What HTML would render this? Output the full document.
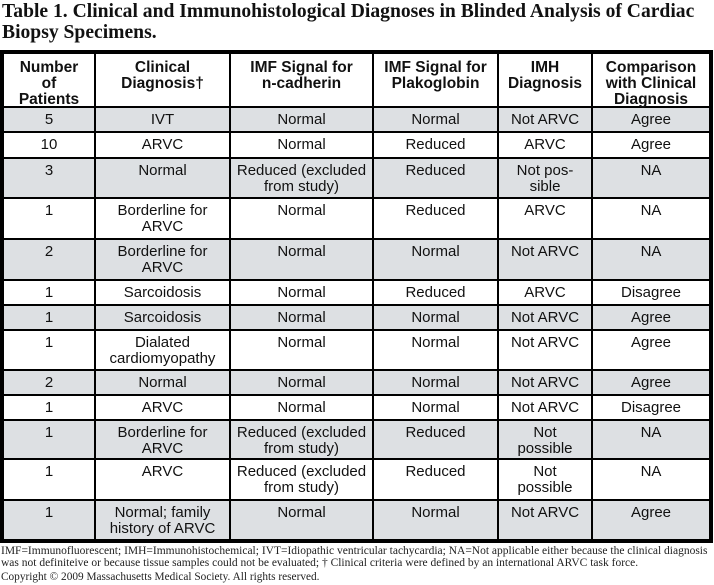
<!DOCTYPE html>
<html><head><meta charset="utf-8"><style>
body{margin:0;width:714px;height:585px;background:#fff;position:relative;overflow:hidden;font-family:"Liberation Sans",Arial,sans-serif;}
.title{position:absolute;left:2px;top:1px;font-family:"Liberation Serif",serif;font-weight:bold;font-size:19.6px;line-height:21px;color:#111;white-space:nowrap;}
.tbl{position:absolute;left:0;top:50px;width:713px;height:493px;background:#000;}
.r{position:absolute;left:4px;width:705px;display:flex;}
.r div{text-align:center;font-size:15px;line-height:16px;padding-top:4px;color:#111;box-sizing:border-box;}
.g{background:#dde0e3;}.w{background:#fff;}
.h div{font-weight:bold;font-size:15.5px;line-height:16px;padding-top:6px;}
.c1{width:90px;margin-right:2px}.c2{width:133px;margin-right:2px}.c3{width:141px;margin-right:2px}.c4{width:123px;margin-right:2px}.c5{width:92px;margin-right:2px}.c6{width:116px}
.r div.c1,.r div.c2,.r div.c3,.r div.c4,.r div.c5,.r div.c6{height:100%}
.foot{position:absolute;left:1px;top:545px;font-family:"Liberation Serif",serif;font-size:11.5px;line-height:12px;color:#222;white-space:nowrap;}
.copy{position:absolute;left:1px;top:571px;font-family:"Liberation Serif",serif;font-size:11.3px;color:#222;}
</style></head><body>
<div class="title">Table 1. Clinical and Immunohistological Diagnoses in Blinded Analysis of Cardiac<br>Biopsy Specimens.</div>
<div class="tbl">
<div class="r h" style="top:4px;height:52px"><div class="c1 w">Number<br>of<br>Patients</div><div class="c2 w">Clinical<br>Diagnosis†</div><div class="c3 w">IMF Signal for<br>n-cadherin</div><div class="c4 w">IMF Signal for<br>Plakoglobin</div><div class="c5 w">IMH<br>Diagnosis</div><div class="c6 w">Comparison<br>with Clinical<br>Diagnosis</div></div>
<div class="r" style="top:58px;height:23px"><div class="c1 g">5</div><div class="c2 g">IVT</div><div class="c3 g">Normal</div><div class="c4 g">Normal</div><div class="c5 g">Not ARVC</div><div class="c6 g">Agree</div></div>
<div class="r" style="top:83px;height:24px"><div class="c1 w">10</div><div class="c2 w">ARVC</div><div class="c3 w">Normal</div><div class="c4 w">Reduced</div><div class="c5 w">ARVC</div><div class="c6 w">Agree</div></div>
<div class="r" style="top:109px;height:38px"><div class="c1 g">3</div><div class="c2 g">Normal</div><div class="c3 g">Reduced (excluded<br>from study)</div><div class="c4 g">Reduced</div><div class="c5 g">Not pos-<br>sible</div><div class="c6 g">NA</div></div>
<div class="r" style="top:149px;height:39px"><div class="c1 w">1</div><div class="c2 w">Borderline for<br>ARVC</div><div class="c3 w">Normal</div><div class="c4 w">Reduced</div><div class="c5 w">ARVC</div><div class="c6 w">NA</div></div>
<div class="r" style="top:190px;height:39px"><div class="c1 g">2</div><div class="c2 g">Borderline for<br>ARVC</div><div class="c3 g">Normal</div><div class="c4 g">Normal</div><div class="c5 g">Not ARVC</div><div class="c6 g">NA</div></div>
<div class="r" style="top:231px;height:23px"><div class="c1 w">1</div><div class="c2 w">Sarcoidosis</div><div class="c3 w">Normal</div><div class="c4 w">Reduced</div><div class="c5 w">ARVC</div><div class="c6 w">Disagree</div></div>
<div class="r" style="top:256px;height:23px"><div class="c1 g">1</div><div class="c2 g">Sarcoidosis</div><div class="c3 g">Normal</div><div class="c4 g">Normal</div><div class="c5 g">Not ARVC</div><div class="c6 g">Agree</div></div>
<div class="r" style="top:281px;height:38px"><div class="c1 w">1</div><div class="c2 w">Dialated<br>cardiomyopathy</div><div class="c3 w">Normal</div><div class="c4 w">Normal</div><div class="c5 w">Not ARVC</div><div class="c6 w">Agree</div></div>
<div class="r" style="top:321px;height:23px"><div class="c1 g">2</div><div class="c2 g">Normal</div><div class="c3 g">Normal</div><div class="c4 g">Normal</div><div class="c5 g">Not ARVC</div><div class="c6 g">Agree</div></div>
<div class="r" style="top:346px;height:23px"><div class="c1 w">1</div><div class="c2 w">ARVC</div><div class="c3 w">Normal</div><div class="c4 w">Normal</div><div class="c5 w">Not ARVC</div><div class="c6 w">Disagree</div></div>
<div class="r" style="top:371px;height:37px"><div class="c1 g">1</div><div class="c2 g">Borderline for<br>ARVC</div><div class="c3 g">Reduced (excluded<br>from study)</div><div class="c4 g">Reduced</div><div class="c5 g">Not<br>possible</div><div class="c6 g">NA</div></div>
<div class="r" style="top:410px;height:39px"><div class="c1 w">1</div><div class="c2 w">ARVC</div><div class="c3 w">Reduced (excluded<br>from study)</div><div class="c4 w">Reduced</div><div class="c5 w">Not<br>possible</div><div class="c6 w">NA</div></div>
<div class="r" style="top:451px;height:38px"><div class="c1 g">1</div><div class="c2 g">Normal; family<br>history of ARVC</div><div class="c3 g">Normal</div><div class="c4 g">Normal</div><div class="c5 g">Not ARVC</div><div class="c6 g">Agree</div></div>
</div>
<div class="foot">IMF=Immunofluorescent; IMH=Immunohistochemical; IVT=Idiopathic ventricular tachycardia; NA=Not applicable either because the clinical diagnosis<br>was not definiteive or because tissue samples could not be evaluated; † Clinical criteria were defined by an international ARVC task force.</div>
<div class="copy">Copyright © 2009 Massachusetts Medical Society. All rights reserved.</div>
</body></html>
